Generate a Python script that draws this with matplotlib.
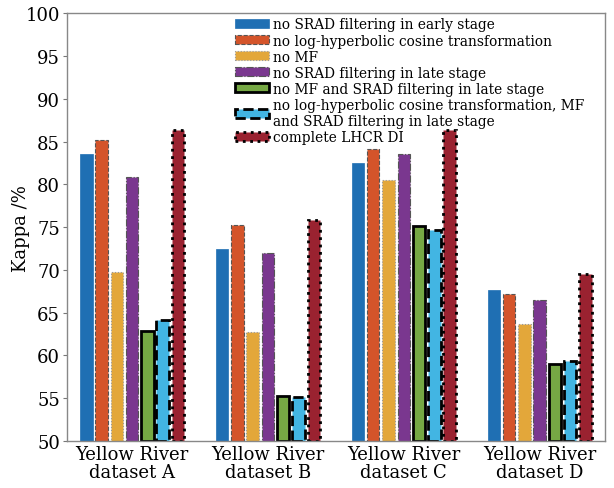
import numpy as np
import matplotlib.pyplot as plt

plt.rcParams['font.family'] = ['DejaVu Serif']

datasets = ['Yellow River\ndataset A', 'Yellow River\ndataset B',
            'Yellow River\ndataset C', 'Yellow River\ndataset D']
labels = ['no SRAD filtering in early stage',
          'no log-hyperbolic cosine transformation',
          'no MF',
          'no SRAD filtering in late stage',
          'no MF and SRAD filtering in late stage',
          'no log-hyperbolic cosine transformation, MF\nand SRAD filtering in late stage',
          'complete LHCR DI']
kappa = [
    [83.5, 72.4, 82.5, 67.6],
    [85.2, 75.2, 84.1, 67.2],
    [69.7, 62.7, 80.5, 63.7],
    [80.9, 72.0, 83.6, 66.5],
    [62.9, 55.3, 75.1, 59.0],
    [64.2, 55.2, 74.7, 59.4],
    [86.4, 75.8, 86.4, 69.5],
]
colors = ['#1f6fb3', '#d4542a', '#e3a73a', '#7a378f', '#76a844', '#42b5e3', '#9a2230']
edges = [None, '#555555', '#999999', '#555555', 'black', 'black', 'black']
styles = ['-', '--', ':', '-.', '-', '--', ':']
lws = [0.5, 0.8, 0.8, 0.8, 2.0, 2.0, 2.0]

fig = plt.figure(figsize=(6.14, 4.89), dpi=100)
ax = fig.add_axes([0.109, 0.096, 0.876, 0.875])

x = np.arange(1, 5)
pitch = 0.1125
for i in range(7):
    ec = edges[i] if edges[i] else colors[i]
    ax.bar(x + (i - 3) * pitch, np.array(kappa[i]) - 50, bottom=50, width=0.092,
           color=colors[i], edgecolor=ec, linestyle=styles[i], linewidth=lws[i],
           label=labels[i])

ax.set_xlim(0.52, 4.48)
ax.set_ylim(50, 100)
ax.set_yticks(range(50, 101, 5))
ax.set_xticks(x)
ax.set_xticklabels(datasets, fontsize=13, linespacing=1.0)
ax.tick_params(axis='y', labelsize=13, direction='out', length=3, color='#777777', pad=2)
ax.tick_params(axis='x', direction='in', length=0, pad=3)
for s in ax.spines.values():
    s.set_color('#888888')
    s.set_linewidth(1.0)
ax.set_ylabel('Kappa /%', fontsize=13)
ax.yaxis.set_label_coords(-0.069, 0.5)

leg = ax.legend(loc='upper left', bbox_to_anchor=(0.312, 0.99), frameon=False,
                fontsize=9.9, handlelength=2.5, handleheight=0.65,
                handletextpad=0.3, labelspacing=0.15, borderpad=0, borderaxespad=0)

fig.savefig('out.png', dpi=100)
